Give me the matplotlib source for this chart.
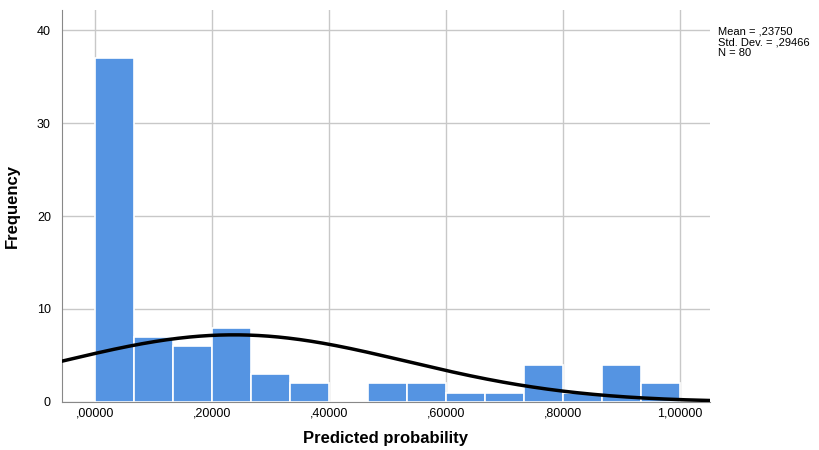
import numpy as np
import matplotlib.pyplot as plt

plt.rcParams['font.family'] = ['Liberation Sans', 'DejaVu Sans']

# histogram bins (width 1/15) and counts
bin_edges = np.linspace(0, 1, 16)
counts = [37, 7, 6, 8, 3, 2, 0, 2, 2, 1, 1, 4, 1, 4, 2]
mean = 0.2375
std = 0.29466
n = 80

x_ticks = [0.0, 0.2, 0.4, 0.6, 0.8, 1.0]
x_labels = [',00000', ',20000', ',40000', ',60000', ',80000', '1,00000']
y_ticks = [0, 10, 20, 30, 40]

fig = plt.figure(figsize=(8.19, 4.5), dpi=100)
ax = fig.add_axes([0.0757, 0.1067, 0.791, 0.871])

widths = np.diff(bin_edges)
ax.bar(bin_edges[:-1], counts, width=widths, align='edge',
       color='#5594e2', edgecolor='white', linewidth=1.2, zorder=2)

xs = np.linspace(-0.06, 1.06, 400)
bw = widths[0]
curve = n * bw / (std * np.sqrt(2 * np.pi)) * np.exp(-0.5 * ((xs - mean) / std) ** 2)
ax.plot(xs, curve, color='black', linewidth=2.5, zorder=3)

ax.set_xlim(-0.0564, 1.051)
ax.set_ylim(0, 42.15)
ax.set_xticks(x_ticks)
ax.set_xticklabels(x_labels, fontsize=9)
ax.set_yticks(y_ticks)
ax.tick_params(axis='y', labelsize=9, length=0, pad=8)
ax.tick_params(axis='x', length=0, pad=4)
ax.grid(True, color='#c8c8c8', linewidth=1, zorder=0)
ax.set_axisbelow(True)
for s in ['top', 'right']:
    ax.spines[s].set_visible(False)
for s in ['left', 'bottom']:
    ax.spines[s].set_color('#888888')

ax.set_xlabel('Predicted probability', fontsize=12, fontweight='bold', labelpad=8)
ax.set_ylabel('Frequency', fontsize=12, fontweight='bold', labelpad=12)

fig.text(718 / 819, 1 - 27 / 450,
         'Mean = ,23750\nStd. Dev. = ,29466\nN = 80',
         fontsize=8, va='top', ha='left', linespacing=1.05)

fig.savefig('out.png', dpi=100)
